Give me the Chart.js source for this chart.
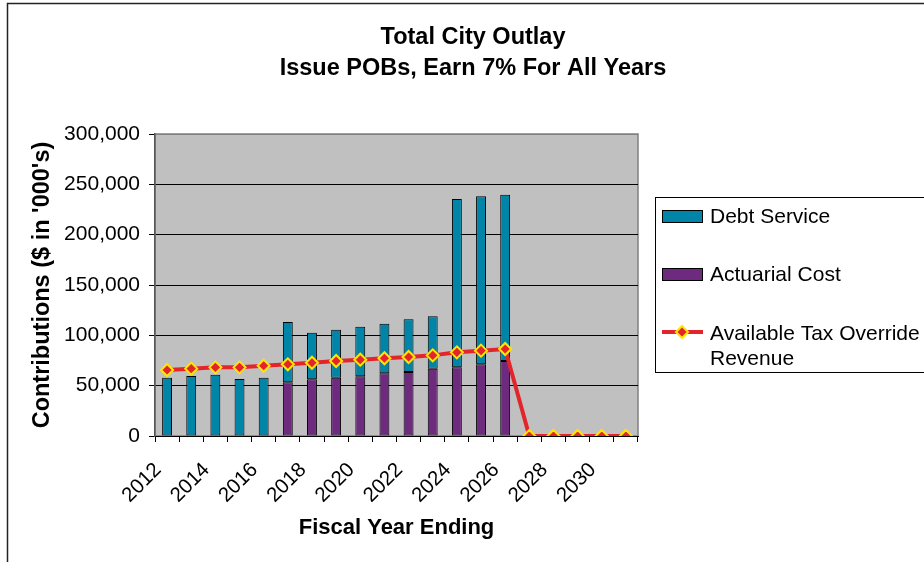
<!DOCTYPE html>
<html><head><meta charset="utf-8">
<script src="https://cdn.jsdelivr.net/npm/chart.js@4/dist/chart.umd.min.js"></script>
<style>html,body{margin:0;padding:0;background:#fff;}#wrap{width:924px;height:562px;position:relative;}</style>
</head><body><div id="wrap"><canvas id="c" width="924" height="562"></canvas></div>
<script>
const years = ['2012','2013','2014','2015','2016','2017','2018','2019','2020','2021','2022','2023','2024','2025','2026','2027','2028','2029','2030','2031'];
const actuarialCost = [0,0,0,0,0,53300,56300,57900,59300,62300,63600,66900,68200,71200,74500,null,null,null,null,null];
const debtService = [57900,59600,60900,56600,57900,59900,46300,47700,49300,49300,52300,52000,167200,166900,165200,null,null,null,null,null];
const taxOverrideRevenue = [65600,66900,68200,68200,69800,71200,72800,74500,75800,77200,78500,80100,83100,84800,86400,0,0,0,0,0];
const yTickValues = [0,50000,100000,150000,200000,250000,300000];
const titleLines = ['Total City Outlay','Issue POBs, Earn 7% For All Years'];
const legendLabels = ['Debt Service','Actuarial Cost','Available Tax Override','Revenue'];

const FONT = "'Liberation Sans', Arial, sans-serif";
const TEAL = '#0085A9', PURPLE = '#6D2A7E', RED = '#E3242B', YELLOW = '#FFE600';

const deco = {
  id: 'deco',
  beforeDraw(chart) {
    const {ctx, chartArea: a} = chart;
    ctx.save();
    ctx.fillStyle = '#fff';
    ctx.fillRect(0, 0, chart.width, chart.height);
    ctx.fillStyle = '#C0C0C0';
    ctx.fillRect(a.left, a.top, a.right - a.left, a.bottom - a.top);
    ctx.strokeStyle = '#808080';
    ctx.lineWidth = 1.5;
    ctx.strokeRect(a.left, a.top, a.right - a.left, a.bottom - a.top);
    ctx.strokeStyle = '#222';
    ctx.lineWidth = 1.5;
    ctx.beginPath();
    ctx.moveTo(7.5, 600); ctx.lineTo(7.5, 3.5); ctx.lineTo(1000, 3.5);
    ctx.stroke();
    ctx.restore();
  },
  afterDraw(chart) {
    const {ctx} = chart;
    ctx.save();
    ctx.fillStyle = '#000';
    ctx.textAlign = 'center';
    ctx.textBaseline = 'alphabetic';
    ctx.font = 'bold 23.5px ' + FONT;
    ctx.fillText(titleLines[0], 473, 44);
    ctx.fillText(titleLines[1], 473, 75);
    ctx.strokeStyle = '#000';
    ctx.lineWidth = 1;
    ctx.strokeRect(655.5, 197.5, 400, 175);
    ctx.fillStyle = TEAL;
    ctx.fillRect(662, 210, 40, 12);
    ctx.strokeRect(662.5, 210.5, 40, 12);
    ctx.fillStyle = PURPLE;
    ctx.fillRect(662, 268, 40, 12);
    ctx.strokeRect(662.5, 268.5, 40, 12);
    ctx.strokeStyle = RED;
    ctx.lineWidth = 4;
    ctx.beginPath(); ctx.moveTo(662, 332); ctx.lineTo(703, 332); ctx.stroke();
    ctx.beginPath();
    ctx.moveTo(682, 326); ctx.lineTo(688, 332); ctx.lineTo(682, 338); ctx.lineTo(676, 332); ctx.closePath();
    ctx.fillStyle = RED; ctx.fill();
    ctx.strokeStyle = YELLOW; ctx.lineWidth = 2; ctx.stroke();
    ctx.fillStyle = '#000';
    ctx.textAlign = 'left';
    ctx.font = '21px ' + FONT;
    ctx.fillText(legendLabels[0], 710, 223);
    ctx.fillText(legendLabels[1], 710, 281);
    ctx.fillText(legendLabels[2], 710, 340);
    ctx.fillText(legendLabels[3], 710, 365);
    ctx.restore();
  }
};

const barCommon = {borderColor: '#000', borderWidth: 1, borderSkipped: false, stack: 'bars', order: 1, barPercentage: 0.82, categoryPercentage: 0.5};

new Chart(document.getElementById('c'), {
  type: 'bar',
  data: {
    labels: years,
    datasets: [
      {type: 'line', label: 'Available Tax Override Revenue', data: taxOverrideRevenue, stack: 'line', order: 0,
       borderColor: RED, borderWidth: 4, tension: 0, fill: false,
       pointStyle: 'rectRot', pointRadius: 6, pointBackgroundColor: RED, pointBorderColor: YELLOW, pointBorderWidth: 2},
      Object.assign({label: 'Actuarial Cost', data: actuarialCost, backgroundColor: PURPLE}, barCommon),
      Object.assign({label: 'Debt Service', data: debtService, backgroundColor: TEAL}, barCommon)
    ]
  },
  options: {
    responsive: false, animation: false, devicePixelRatio: 1,
    layout: {padding: {left: 20, top: 134, right: 286, bottom: 0}},
    plugins: {legend: {display: false}, title: {display: false}, tooltip: {enabled: false}},
    scales: {
      x: {
        stacked: true, offset: true,
        grid: {offset: true, drawOnChartArea: false, tickLength: 6, tickColor: '#000', color: '#000'},
        border: {color: '#000', width: 1},
        ticks: {autoSkip: false, maxRotation: 45, minRotation: 45, padding: 16, labelOffset: -9, color: '#000',
                font: {family: FONT, size: 20.5},
                callback: (v, i) => (i % 2 === 0 ? years[i] : '')},
        title: {display: true, text: 'Fiscal Year Ending', color: '#000', font: {family: FONT, size: 22, weight: 'bold'}, padding: {top: 0, bottom: 21}},
        afterFit: s => { s.height = 562 - 436; }
      },
      y: {
        stacked: true, min: 0, max: 300000,
        afterBuildTicks: s => { s.ticks = yTickValues.map(v => ({value: v})); },
        grid: {tickLength: 6, tickColor: '#000', color: c => (c.tick && c.tick.value === 300000 ? '#808080' : '#000'), lineWidth: 1},
        border: {color: '#555', width: 1.5},
        ticks: {padding: 9, color: '#000', font: {family: FONT, size: 21},
                callback: v => v.toLocaleString('en-US')},
        title: {display: true, text: "Contributions ($ in '000's)", color: '#000', font: {family: FONT, size: 23.5, weight: 'bold'}, padding: {top: 8, bottom: 0}},
        afterFit: s => { s.width = 155 - 20; }
      }
    }
  },
  plugins: [deco]
});
</script></body></html>
